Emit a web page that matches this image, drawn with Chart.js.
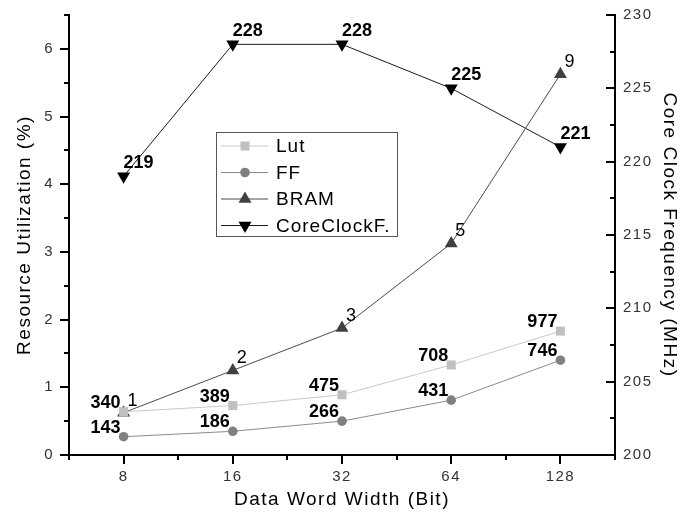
<!DOCTYPE html>
<html>
<head>
<meta charset="utf-8">
<script src="https://cdn.jsdelivr.net/npm/chart.js@4.4.0/dist/chart.umd.min.js"></script>
<style>
html, body { margin: 0; padding: 0; background: #fff; }
#wrap { width: 683px; height: 520px; }
</style>
</head>
<body>
<div id="wrap"><canvas id="chart" width="683" height="520"></canvas></div>
<script>
// data word widths (x categories)
const widths = ['8', '16', '32', '64', '128'];
// resource utilization in %, with the absolute counts printed next to the points
const lutPct = [0.64, 0.73, 0.89, 1.33, 1.83];
const lutCount = [340, 389, 475, 708, 977];
const ffPct = [0.27, 0.35, 0.50, 0.81, 1.40];
const ffCount = [143, 186, 266, 431, 746];
const bramPct = [0.625, 1.25, 1.875, 3.125, 5.625];
const bramCount = [1, 2, 3, 5, 9];
// core clock frequency in MHz (right axis)
const clockMHz = [219, 228, 228, 225, 221];

const FONT = '"Liberation Sans", Arial, sans-serif';
Chart.defaults.font.family = FONT;
Chart.defaults.color = '#000';

const pts = arr => arr.map((v, i) => ({ x: i, y: v }));

// fixed axis sizes so the plot box lands where the original has it
function fixSize(size) {
    return s => {
        if (s.isHorizontal()) s.height = size; else s.width = size;
        s.paddingTop = 0; s.paddingBottom = 0;
        s.paddingLeft = 0; s.paddingRight = 0;
    };
}

// tick marks: long at labelled values, short in between
const tickMarks = {
    id: 'tickMarks',
    afterDraw(chart) {
        const ctx = chart.ctx;
        const area = chart.chartArea;
        ctx.save();
        ctx.strokeStyle = '#000';
        ctx.lineWidth = 2;
        const x = chart.scales.x;
        x.ticks.forEach(t => {
            const px = Math.round(x.getPixelForValue(t.value));
            const len = Number.isInteger(t.value) ? 9 : 5;
            ctx.beginPath();
            ctx.moveTo(px, area.bottom);
            ctx.lineTo(px, area.bottom + len);
            ctx.stroke();
        });
        const y = chart.scales.y;
        y.ticks.forEach(t => {
            const py = Math.round(y.getPixelForValue(t.value));
            const len = Number.isInteger(t.value) ? 9 : 5;
            ctx.beginPath();
            ctx.moveTo(area.left, py);
            ctx.lineTo(area.left - len, py);
            ctx.stroke();
        });
        const y2 = chart.scales.y2;
        y2.ticks.forEach(t => {
            const py = Math.round(y2.getPixelForValue(t.value));
            const len = t.value % 5 === 0 ? 9 : 5;
            ctx.beginPath();
            ctx.moveTo(area.right, py);
            ctx.lineTo(area.right - len, py);
            ctx.stroke();
        });
        ctx.restore();
    }
};

// values written beside the points
const pointLabels = {
    id: 'pointLabels',
    afterDatasetsDraw(chart) {
        const ctx = chart.ctx;
        ctx.save();
        ctx.letterSpacing = '0px';
        ctx.fillStyle = '#000';
        ctx.textBaseline = 'alphabetic';
        chart.data.datasets.forEach((ds, di) => {
            const meta = chart.getDatasetMeta(di);
            const lab = ds.valueLabels;
            ctx.font = (lab.bold ? 'bold ' : '') + '18px ' + FONT;
            ctx.textAlign = lab.align;
            meta.data.forEach((p, i) => {
                ctx.fillText(String(lab.values[i]), p.x + lab.dx, p.y + lab.dy);
            });
        });
        ctx.restore();
    }
};

function marker(ctx, style, x, y, r, rot) {
    ctx.beginPath();
    if (style === 'rect') {
        const s = r * Math.SQRT1_2;
        ctx.rect(x - s, y - s, 2 * s, 2 * s);
    } else if (style === 'circle') {
        ctx.arc(x, y, r, 0, Math.PI * 2);
    } else {
        let a = (rot || 0) * Math.PI / 180;
        for (let k = 0; k < 3; k++) {
            const px = x + Math.sin(a) * r, py = y - Math.cos(a) * r;
            if (k === 0) ctx.moveTo(px, py); else ctx.lineTo(px, py);
            a += Math.PI * 2 / 3;
        }
        ctx.closePath();
    }
    ctx.fill();
}

// framed legend inside the plot
const boxLegend = {
    id: 'boxLegend',
    afterDraw(chart) {
        const ctx = chart.ctx;
        ctx.save();
        ctx.strokeStyle = '#555';
        ctx.lineWidth = 1;
        ctx.strokeRect(216.5, 132.5, 181, 104);
        ctx.font = '19px ' + FONT;
        ctx.letterSpacing = '1px';
        ctx.textAlign = 'left';
        ctx.textBaseline = 'middle';
        chart.data.datasets.forEach((ds, i) => {
            const yy = 146 + i * 26.5;
            ctx.strokeStyle = ds.borderColor;
            ctx.beginPath();
            ctx.moveTo(221, yy);
            ctx.lineTo(268, yy);
            ctx.stroke();
            ctx.fillStyle = ds.pointBackgroundColor;
            marker(ctx, ds.pointStyle, 245, yy, ds.pointRadius, ds.pointRotation);
            ctx.fillStyle = '#000';
            ctx.fillText(ds.label, 276, yy + 1);
        });
        ctx.restore();
    }
};

const wideText = {
    id: 'wideText',
    beforeDraw(chart) {
        chart.ctx.letterSpacing = '1.5px';
    }
};

new Chart(document.getElementById('chart'), {
    type: 'line',
    data: {
        datasets: [
            {
                label: 'Lut', data: pts(lutPct), yAxisID: 'y',
                borderColor: '#c8c8c8', borderWidth: 1,
                pointStyle: 'rect', pointRadius: 6.4,
                pointBackgroundColor: '#c0c0c0', pointBorderWidth: 0,
                valueLabels: { values: lutCount, align: 'right', dx: -3, dy: -4, bold: true }
            },
            {
                label: 'FF', data: pts(ffPct), yAxisID: 'y',
                borderColor: '#8a8a8a', borderWidth: 1,
                pointStyle: 'circle', pointRadius: 4.8,
                pointBackgroundColor: '#808080', pointBorderWidth: 0,
                valueLabels: { values: ffCount, align: 'right', dx: -3, dy: -4, bold: true }
            },
            {
                label: 'BRAM', data: pts(bramPct), yAxisID: 'y',
                borderColor: '#4a4a4a', borderWidth: 1,
                pointStyle: 'triangle', pointRadius: 7.5,
                pointBackgroundColor: '#404040', pointBorderWidth: 0,
                valueLabels: { values: bramCount, align: 'left', dx: 4, dy: -7, bold: false }
            },
            {
                label: 'CoreClockF.', data: pts(clockMHz), yAxisID: 'y2',
                borderColor: '#1a1a1a', borderWidth: 1,
                pointStyle: 'triangle', pointRotation: 180, pointRadius: 7.5,
                pointBackgroundColor: '#000', pointBorderWidth: 0,
                valueLabels: { values: clockMHz, align: 'left', dx: 0, dy: -8, bold: true }
            }
        ]
    },
    options: {
        responsive: false,
        animation: false,
        devicePixelRatio: 1,
        layout: { padding: { top: 15, left: 0, right: 0, bottom: 0 } },
        plugins: { legend: { display: false }, tooltip: { enabled: false } },
        elements: { line: { tension: 0 } },
        scales: {
            x: {
                type: 'linear', position: 'bottom', min: -0.5, max: 4.5,
                afterFit: fixSize(65),
                grid: { drawOnChartArea: false, drawTicks: false },
                border: { color: '#000', width: 2 },
                ticks: {
                    stepSize: 0.5, autoSkip: false, maxRotation: 0, padding: 13,
                    color: '#333', font: { size: 15 },
                    callback: v => Number.isInteger(v) ? widths[v] : ''
                },
                title: {
                    display: true, text: 'Data Word Width (Bit)',
                    font: { size: 19 }, padding: { bottom: 9, top: 0 }
                }
            },
            y: {
                position: 'left', min: 0, max: 6.5,
                afterFit: fixSize(69),
                grid: { drawOnChartArea: false, drawTicks: false },
                border: { color: '#000', width: 2 },
                ticks: {
                    stepSize: 0.5, autoSkip: false, padding: 15,
                    color: '#333', font: { size: 15 },
                    callback: v => Number.isInteger(v) ? String(v) : ''
                },
                title: {
                    display: true, text: 'Resource Utilization (%)',
                    font: { size: 19 }, padding: { top: 13, bottom: 0 }
                }
            },
            y2: {
                position: 'right', min: 200, max: 230,
                afterFit: fixSize(68),
                grid: { drawOnChartArea: false, drawTicks: false },
                border: { color: '#000', width: 2 },
                ticks: {
                    stepSize: 2.5, autoSkip: false, padding: 8,
                    color: '#333', font: { size: 15 },
                    callback: v => v % 5 === 0 ? String(v) : ''
                },
                title: {
                    display: true, text: 'Core Clock Frequency (MHz)',
                    font: { size: 19 }, padding: { top: 2, bottom: 0 }
                }
            }
        }
    },
    plugins: [wideText, tickMarks, pointLabels, boxLegend]
});
</script>
</body>
</html>
